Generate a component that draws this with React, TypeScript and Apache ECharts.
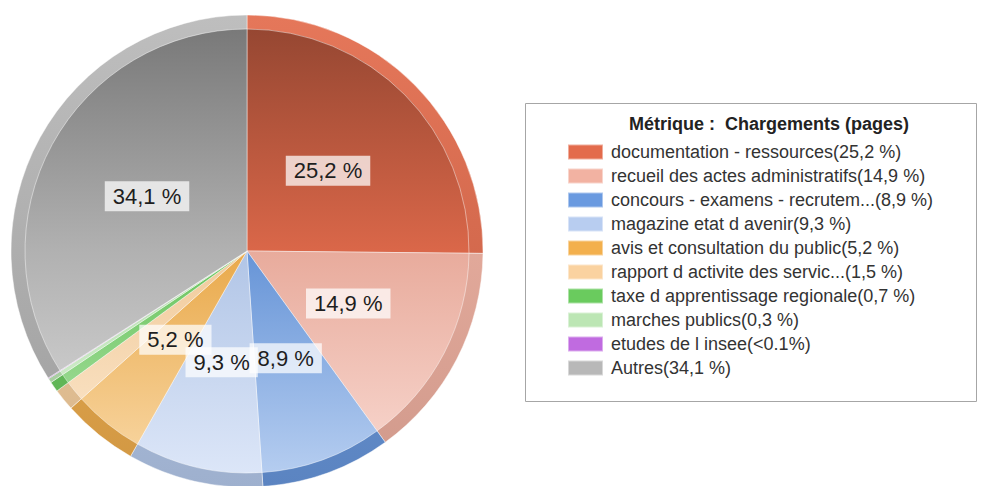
import React, { useEffect, useRef } from "react";
import * as echarts from "echarts";

const categories = [
  "documentation - ressources",
  "recueil des actes administratifs",
  "concours - examens - recrutem...",
  "magazine etat d avenir",
  "avis et consultation du public",
  "rapport d activite des servic...",
  "taxe d apprentissage regionale",
  "marches publics",
  "etudes de l insee",
  "Autres",
];
const values = [25.2, 14.9, 8.9, 9.3, 5.2, 1.5, 0.7, 0.3, 0.05, 34.1];
const pctLabels = ["25,2 %", "14,9 %", "8,9 %", "9,3 %", "5,2 %", "1,5 %", "0,7 %", "0,3 %", "<0.1%", "34,1 %"];
const showLabel = [true, true, true, true, true, false, false, false, false, true];
const legendTitle = "Métrique :  Chargements (pages)";

const colors = ["#e36b4c", "#f2b2a2", "#6a9ae0", "#b8cdf0", "#f3b04d", "#fad2a0", "#6acb5e", "#bce6b4", "#c06be0", "#b8b8b8"];

const FONT = '"Liberation Sans", Arial, sans-serif';
const CX = 247;
const CY = 251;
const R = 236;
const R_IN = 222;

function hexToRgb(h: string): number[] {
  const s = h.replace("#", "");
  return [0, 2, 4].map((i) => parseInt(s.slice(i, i + 2), 16));
}
function rgb(c: number[]): string {
  return `rgb(${c.map((v) => Math.max(0, Math.min(255, Math.round(v)))).join(",")})`;
}
function darken(h: string, f: number): string {
  return rgb(hexToRgb(h).map((v) => v * f));
}
function tint(h: string, t: number): string {
  return rgb(hexToRgb(h).map((v) => v + (255 - v) * t));
}

export default function App() {
  const ref = useRef<HTMLDivElement>(null);
  useEffect(() => {
    document.body.style.margin = "0";
    const chart = echarts.init(ref.current!, undefined, { renderer: "svg" });
    const outerData = categories.map((name, i) => ({
      name,
      value: values[i],
      itemStyle: {
        color: new echarts.graphic.LinearGradient(
          0, CY - R, 0, CY + R,
          [
            { offset: 0, color: tint(colors[i], 0.08) },
            { offset: 1, color: darken(colors[i], 0.86) },
          ],
          true
        ),
      },
    }));
    const innerData = categories.map((name, i) => ({
      name,
      value: values[i],
      label: { show: showLabel[i] },
      itemStyle: {
        color: new echarts.graphic.LinearGradient(
          0, CY - R_IN, 0, CY + R_IN,
          [
            { offset: 0, color: darken(colors[i], 0.66) },
            { offset: 0.5, color: darken(colors[i], 0.96) },
            { offset: 1, color: tint(colors[i], 0.5) },
          ],
          true
        ),
      },
    }));
    chart.setOption({
      animation: false,
      graphic: [
        {
          type: "rect",
          shape: { x: 525.5, y: 103.5, width: 451, height: 298 },
          style: { fill: "#ffffff", stroke: "#a6a6a6", lineWidth: 1 },
          z: 0,
        },
        {
          type: "text",
          x: 769,
          y: 124,
          style: {
            text: legendTitle,
            font: `bold 18px ${FONT}`,
            fill: "#222",
            align: "center",
            verticalAlign: "middle",
            textAlign: "center",
            textVerticalAlign: "middle",
          },
          z: 1,
        },
      ],
      legend: {
        orient: "vertical",
        left: 562,
        top: 138,
        itemWidth: 35,
        itemHeight: 15,
        itemGap: 6,
        icon: "rect",
        selectedMode: false,
        z: 5,
        data: categories.map((n, i) => ({ name: n, itemStyle: { color: colors[i] } })),
        formatter: (name: string) => `${name}(${pctLabels[categories.indexOf(name)]})`,
        textStyle: { fontSize: 18, lineHeight: 18, color: "#333", fontFamily: FONT, padding: [0, 0, 0, 3] },
      },
      series: [
        {
          type: "pie",
          silent: true,
          center: [CX, CY],
          radius: [0, R],
          startAngle: 90,
          clockwise: true,
          avoidLabelOverlap: false,
          label: { show: false },
          labelLine: { show: false },
          itemStyle: { borderColor: "rgba(255,255,255,0.45)", borderWidth: 1 },
          data: outerData,
          z: 1,
        },
        {
          type: "pie",
          silent: true,
          center: [CX, CY],
          radius: [0, R_IN],
          startAngle: 90,
          clockwise: true,
          avoidLabelOverlap: false,
          labelLayout: { hideOverlap: false },
          labelLine: { show: false },
          label: {
            position: "inside",
            formatter: (p: any) => pctLabels[p.dataIndex],
            fontSize: 22,
            lineHeight: 22,
            fontFamily: FONT,
            color: "#1e1e1e",
            backgroundColor: "rgba(255,255,255,0.72)",
            padding: [4, 8],
          },
          itemStyle: { borderColor: "rgba(255,255,255,0.45)", borderWidth: 1 },
          data: innerData,
          z: 2,
        },
      ],
    });
    return () => chart.dispose();
  }, []);
  return <div ref={ref} style={{ width: 990, height: 486 }} />;
}
